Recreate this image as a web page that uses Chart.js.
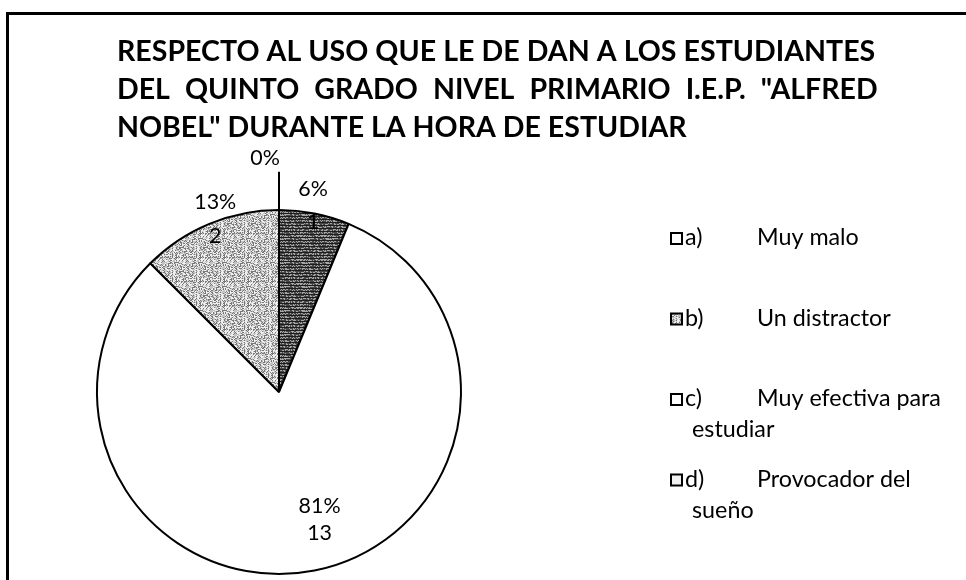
<!DOCTYPE html>
<html>
<head>
<meta charset="utf-8">
<script src="https://cdn.jsdelivr.net/npm/chart.js@4.4.1/dist/chart.umd.min.js"></script>
<style>
html,body{margin:0;padding:0;background:#fff;}
#wrap{width:966px;height:580px;}
</style>
</head>
<body>
<div id="wrap"><canvas id="myChart" width="966" height="580"></canvas></div>
<script>
// data
var titleLines = ['RESPECTO AL USO QUE LE DE DAN A LOS ESTUDIANTES',
                  'DEL QUINTO GRADO NIVEL PRIMARIO I.E.P. "ALFRED',
                  'NOBEL" DURANTE LA HORA DE ESTUDIAR'];
var keys = ['a)', 'b)', 'c)', 'd)'];
var categories = ['Muy malo', 'Un distractor', 'Muy efectiva para estudiar', 'Provocador del sueño'];
var values = [0, 1, 13, 2];

// little textures like the scanned fills
function hash(x, y){
  var h = Math.imul(x, 374761393) + Math.imul(y, 668265263);
  h = Math.imul(h ^ (h >>> 13), 1274126177);
  return ((h ^ (h >>> 16)) >>> 0) % 256 / 255;
}
function makePattern(kind){
  var c = document.createElement('canvas');
  c.width = 24; c.height = 24;
  var g = c.getContext('2d');
  var img = g.createImageData(24, 24);
  for (var y = 0; y < 24; y++) for (var x = 0; x < 24; x++) {
    var n = hash(x, y), v;
    if (kind == 'dark') v = (y % 3 == 0) ? 30 : (n < 0.55 ? 70 : 165);
    else if (kind == 'light') v = n < 0.3 ? 120 : (n < 0.65 ? 195 : 240);
    else v = 255;
    var i = (y * 24 + x) * 4;
    img.data[i] = img.data[i+1] = img.data[i+2] = v; img.data[i+3] = 255;
  }
  g.putImageData(img, 0, 0);
  return g.createPattern(c, 'repeat');
}
var fills = ['#ffffff', makePattern('dark'), '#ffffff', makePattern('light')];
var legendFills = ['#ffffff', makePattern('light'), '#ffffff', '#f2f2f2'];

function fitFont(ctx, weight, family, text, target){
  ctx.font = weight + ' 100px ' + family;
  return 100 * target / ctx.measureText(text).width;
}

var framePlugin = {
  id: 'frame',
  beforeDraw: function(chart){
    var ctx = chart.ctx;
    ctx.save();
    ctx.fillStyle = '#fff';
    ctx.fillRect(0, 0, chart.width, chart.height);
    ctx.restore();
  },
  afterDraw: function(chart){
    var ctx = chart.ctx;
    ctx.save();
    ctx.strokeStyle = '#000';
    ctx.lineWidth = 3;
    ctx.strokeRect(7.5, 13.5, 1200, 1200);

    // title, first two lines justified
    var left = 117, right = 874;
    var size = fitFont(ctx, 'bold', 'Lato', titleLines[0], right - left);
    ctx.font = 'bold ' + size + 'px Lato';
    ctx.fillStyle = '#000';
    ctx.textBaseline = 'alphabetic';
    var base = [61, 99, 137];
    titleLines.forEach(function(line, li){
      var words = line.split(' ');
      var w = ctx.measureText(words.join('')).width;
      var sp = ctx.measureText(' ').width;
      if (li < 2) sp = (right - left - w) / (words.length - 1);
      var x = left;
      words.forEach(function(wd){
        ctx.fillText(wd, x, base[li]);
        x += ctx.measureText(wd).width + sp;
      });
    });

    // legend
    var lsize = fitFont(ctx, 'normal', 'Lato', 'Muy efectiva para', 184);
    ctx.font = lsize + 'px Lato';
    var lx = 671, keyX = 685, textX = 757, wrapX = 692, maxRight = 955;
    var top = 245, step = 80.5, lineH = 31;
    categories.forEach(function(cat, i){
      var y = top + i * step;
      ctx.fillStyle = legendFills[i];
      ctx.fillRect(lx, y - 12, 11, 11);
      ctx.strokeStyle = '#000';
      ctx.lineWidth = 2;
      ctx.strokeRect(lx, y - 12, 11, 11);
      ctx.fillStyle = '#000';
      ctx.fillText(keys[i], keyX, y);
      var words = cat.split(' '), line = '', x = textX, yy = y;
      words.forEach(function(wd){
        var test = line ? line + ' ' + wd : wd;
        if (line && x + ctx.measureText(test).width > maxRight) {
          ctx.fillText(line, x, yy);
          line = wd; x = wrapX; yy += lineH;
        } else line = test;
      });
      ctx.fillText(line, x, yy);
    });
    ctx.restore();
  }
};

var labelPlugin = {
  id: 'sliceLabels',
  afterDatasetsDraw: function(chart, args, opts){
    var ctx = chart.ctx;
    var meta = chart.getDatasetMeta(0);
    var data = chart.data.datasets[0].data;
    var total = data.reduce(function(a, b){ return a + b; }, 0);
    var size = fitFont(ctx, 'normal', 'Lato', '81%', 42);
    ctx.save();
    ctx.font = size + 'px Lato';
    ctx.fillStyle = '#000';
    ctx.textAlign = 'center';
    ctx.textBaseline = 'middle';
    meta.data.forEach(function(arc, i){
      var p = arc.getProps(['x', 'y', 'startAngle', 'endAngle', 'outerRadius'], true);
      var mid = (p.startAngle + p.endAngle) / 2;
      var pos = opts.positions[i];
      var cx = p.x + Math.cos(mid) * p.outerRadius * pos.r + pos.dx;
      var cy = p.y + Math.sin(mid) * p.outerRadius * pos.r + pos.dy;
      var pct = Math.round(data[i] / total * 100) + '%';
      if (data[i] == 0) {
        ctx.strokeStyle = '#000';
        ctx.lineWidth = 2;
        ctx.beginPath();
        ctx.moveTo(p.x + Math.cos(mid) * p.outerRadius, p.y + Math.sin(mid) * p.outerRadius);
        ctx.lineTo(p.x + Math.cos(mid) * p.outerRadius * 1.21, p.y + Math.sin(mid) * p.outerRadius * 1.21);
        ctx.stroke();
        ctx.fillText(pct, cx, cy);
      } else {
        ctx.fillText(pct, cx, cy - pos.gap / 2);
        ctx.fillText(String(data[i]), cx, cy + pos.gap / 2);
      }
    });
    ctx.restore();
  }
};

var ctx = document.getElementById('myChart');
var myChart = new Chart(ctx, {
  type: 'pie',
  data: {
    labels: categories,
    datasets: [{
      data: values,
      backgroundColor: fills,
      borderColor: '#000',
      borderWidth: 2
    }]
  },
  options: {
    responsive: false,
    animation: false,
    devicePixelRatio: 1,
    radius: 182,
    layout: { padding: { left: 0, right: 408, top: 204, bottom: 0 } },
    plugins: {
      legend: { display: false },
      title: { display: false },
      tooltip: { enabled: false },
      sliceLabels: {
        positions: [
          { r: 1.285, dx: -14, dy: 0, gap: 0 },
          { r: 1.045, dx: -3, dy: 0, gap: 33 },
          { r: 0.72, dx: 15, dy: -1, gap: 27 },
          { r: 1.03, dx: 8, dy: 0, gap: 34 }
        ]
      }
    }
  },
  plugins: [framePlugin, labelPlugin]
});
</script>
</body>
</html>
